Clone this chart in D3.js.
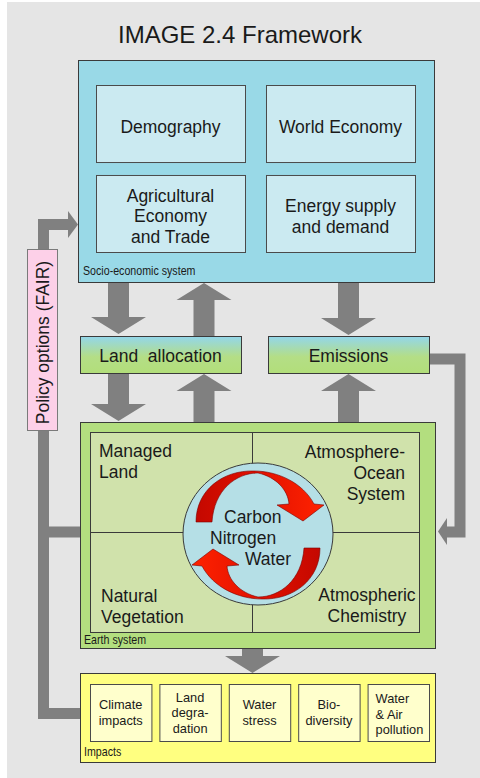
<!DOCTYPE html>
<html>
<head>
<meta charset="utf-8">
<script src="https://cdn.jsdelivr.net/npm/d3@7/dist/d3.min.js"></script>
<style>
  html, body { margin: 0; padding: 0; background: #ffffff; }
  svg text { font-family: "Liberation Sans", Arial, sans-serif; fill: #1a1a1a; }
</style>
</head>
<body>
<div id="chart"></div>
<script>
// ---- content ----
const title = "IMAGE 2.4 Framework";
const socioModules = [["Demography"], ["World Economy"], ["Agricultural", "Economy", "and Trade"], ["Energy supply", "and demand"]];
const linkBoxes = ["Land  allocation", "Emissions"];
const earthQuadrants = [["Managed", "Land"], ["Atmosphere-", "Ocean", "System"], ["Natural", "Vegetation"], ["Atmospheric", "Chemistry"]];
const cycles = ["Carbon", "Nitrogen", "Water"];
const impacts = [["Climate", "impacts"], ["Land", "degra-", "dation"], ["Water", "stress"], ["Bio-", "diversity"], ["Water", "& Air", "pollution"]];
const systemLabels = ["Socio-economic system", "Earth system", "Impacts"];
const policyLabel = "Policy options (FAIR)";

// ---- layout ----
const W = 480, H = 778;
const box = {
  socio:   {x: 78, y: 60, w: 356, h: 222},
  land:    {x: 80, y: 336, w: 161, h: 37},
  emis:    {x: 268, y: 336, w: 161, h: 37},
  earth:   {x: 80, y: 422, w: 355, h: 226},
  panel:   {x: 90, y: 432, w: 329, h: 200},
  impacts: {x: 80, y: 673, w: 355, h: 89},
  policy:  {x: 27, y: 249, w: 30, h: 181}
};
// block arrows between boxes: centre x, start y, tip y
const flows = [
  {cx: 118.5, y0: 282, y1: 334}, {cx: 204, y0: 336, y1: 283}, {cx: 348.5, y0: 282, y1: 335},
  {cx: 118.5, y0: 373, y1: 421}, {cx: 204, y0: 422, y1: 374}, {cx: 348.5, y0: 422, y1: 374},
  {cx: 252.5, y0: 648, y1: 673}
];

let svg = d3.select("#chart").append("svg")
    .attr("width", W).attr("height", H);

let defs = svg.append("defs");
let g1 = defs.append("linearGradient").attr("id", "linkGrad")
    .attr("x1", 0).attr("y1", 0).attr("x2", 0).attr("y2", 1);
g1.append("stop").attr("offset", "0").attr("stop-color", "#93d6ea");
g1.append("stop").attr("offset", "0.55").attr("stop-color", "#b4de86");
g1.append("stop").attr("offset", "1").attr("stop-color", "#b2de7a");
let g2 = defs.append("linearGradient").attr("id", "redGrad")
    .attr("x1", 0).attr("y1", 0).attr("x2", 1).attr("y2", 0);
g2.append("stop").attr("offset", "0").attr("stop-color", "#c40800");
g2.append("stop").attr("offset", "0.45").attr("stop-color", "#e01000");
g2.append("stop").attr("offset", "1").attr("stop-color", "#ff2200");

// background
svg.append("rect").attr("x", 7).attr("y", 2).attr("width", W - 7).attr("height", H - 2)
    .attr("fill", "#e5e5e5");

// title
svg.append("text").attr("x", 240).attr("y", 43)
    .attr("text-anchor", "middle").style("font-size", "24px")
    .text(title);

// feedback loops (thick grey lines)
const grey = "#808080";
let fb = svg.append("g").attr("fill", "none").attr("stroke", grey).attr("stroke-width", 11);
fb.append("path").attr("d", d3.line()([[80, 713.5], [43.5, 713.5], [43.5, 224.5], [69, 224.5]]));
fb.append("path").attr("d", d3.line()([[43.5, 532], [80, 532]]));
fb.append("path").attr("d", d3.line()([[429, 359], [460, 359], [460, 532], [446, 532]]));
svg.append("path").attr("fill", grey)
    .attr("d", "M68,211 L78,224.5 L68,238 Z");
svg.append("path").attr("fill", grey)
    .attr("d", "M447,518 L438,531.5 L447,545 Z");

// block arrows
function blockArrow(d) {
  let s = Math.sign(d.y1 - d.y0), sw = 21, hw = 55, hl = 17;
  let yb = d.y1 - s * hl;
  return d3.line()([[d.cx - sw / 2, d.y0], [d.cx - sw / 2, yb], [d.cx - hw / 2, yb], [d.cx, d.y1],
    [d.cx + hw / 2, yb], [d.cx + sw / 2, yb], [d.cx + sw / 2, d.y0]]) + "Z";
}
svg.selectAll(".flow").data(flows).enter().append("path")
    .attr("class", "flow").attr("d", blockArrow).attr("fill", grey);

function rectBox(b, fill, stroke) {
  return svg.append("rect").attr("x", b.x + 0.5).attr("y", b.y + 0.5)
      .attr("width", b.w).attr("height", b.h)
      .attr("fill", fill).attr("stroke", stroke || "#3a3a3a").attr("stroke-width", 1);
}
function multiLine(sel, lines, lh) {
  lines.forEach(function(t, i) {
    sel.append("tspan").attr("x", sel.attr("x")).attr("dy", i == 0 ? 0 : lh).text(t);
  });
}

// policy options
rectBox(box.policy, "#fdd0e8", "#7a7a7a");
svg.append("text")
    .attr("transform", "translate(" + (box.policy.x + box.policy.w / 2 + 6.5) + "," + (box.policy.y + box.policy.h / 2 + 3) + ") rotate(-90)")
    .attr("text-anchor", "middle").style("font-size", "17.5px")
    .text(policyLabel);

// socio-economic system
rectBox(box.socio, "#99d9e7");
let sx = d3.scaleBand().domain([0, 1]).range([96, 415]).paddingInner(0.1235);
let sy = d3.scaleBand().domain([0, 1]).range([85, 252]).paddingInner(0.144);
socioModules.forEach(function(lines, i) {
  let x = sx(i % 2), y = sy(Math.floor(i / 2));
  svg.append("rect").attr("x", x + 0.5).attr("y", y + 0.5)
      .attr("width", sx.bandwidth()).attr("height", sy.bandwidth())
      .attr("fill", "#cbeaf1").attr("stroke", "#4a4a4a");
  let t = svg.append("text").attr("x", x + sx.bandwidth() / 2)
      .attr("y", y + sy.bandwidth() / 2 + 9 - (lines.length - 1) * 10.25)
      .attr("text-anchor", "middle").style("font-size", "17.5px");
  multiLine(t, lines, 20.5);
});

// link boxes
[box.land, box.emis].forEach(function(b, i) {
  rectBox(b, "url(#linkGrad)");
  svg.append("text").attr("x", b.x + b.w / 2).attr("y", b.y + 26)
      .attr("text-anchor", "middle").style("font-size", "17.5px")
      .style("white-space", "pre")
      .text(linkBoxes[i]);
});

// earth system
rectBox(box.earth, "#b3de7f");
rectBox(box.panel, "#d0e2ab");
let p = box.panel, midX = 252.5, midY = 532.5;
svg.append("line").attr("x1", midX).attr("x2", midX).attr("y1", p.y).attr("y2", p.y + p.h)
    .attr("stroke", "#3a3a3a");
svg.append("line").attr("x1", p.x).attr("x2", p.x + p.w).attr("y1", midY).attr("y2", midY)
    .attr("stroke", "#3a3a3a");

const quadPos = [
  {x: 99, y: 457, anchor: "start"}, {x: 405, y: 458, anchor: "end"},
  {x: 101, y: 601.5, anchor: "start"}, {x: 367, y: 601, anchor: "middle"}
];
earthQuadrants.forEach(function(lines, i) {
  let q = quadPos[i];
  let t = svg.append("text").attr("x", q.x).attr("y", q.y)
      .attr("text-anchor", q.anchor).style("font-size", "17.5px");
  multiLine(t, lines, 21);
});

// cycle circle
svg.append("ellipse").attr("cx", 258).attr("cy", 534).attr("rx", 75).attr("ry", 71)
    .attr("fill", "#b5dfe6").attr("stroke", "#3a3a3a");
// curved arrow, local coordinates around the circle centre
const cyclePath = "M-62,-13 C-62,-45 -35,-65 -4,-64 C20,-64 45,-52 56,-31 " +
    "L66,-30 L45,-14 L19,-30 L31,-31 C30,-45 18,-58 0,-62 C-22,-62 -44,-45 -46,-13 Z";
[0, 180].forEach(function(a) {
  svg.append("path").attr("d", cyclePath)
      .attr("transform", "translate(258,535) rotate(" + a + ")")
      .attr("fill", "url(#redGrad)").attr("stroke", "#7a0000").attr("stroke-width", 0.6);
});
const cycleX = [224, 210, 245];
cycles.forEach(function(c, i) {
  svg.append("text").attr("x", cycleX[i]).attr("y", 522.5 + i * 21.2)
      .style("font-size", "17.5px").text(c);
});

// impacts
rectBox(box.impacts, "#ffff80");
let ix = d3.scaleBand().domain(d3.range(impacts.length)).range([90, 429]).paddingInner(0.115);
impacts.forEach(function(lines, i) {
  let x = ix(i), y = 684, h = 57;
  svg.append("rect").attr("x", x + 0.5).attr("y", y + 0.5)
      .attr("width", ix.bandwidth()).attr("height", h)
      .attr("fill", "#ffffcc").attr("stroke", "#4a4a4a");
  let last = i == impacts.length - 1;
  let t = svg.append("text").attr("x", last ? x + 8 : x + ix.bandwidth() / 2)
      .attr("y", y + h / 2 + 4.5 - (lines.length - 1) * 7.75 + (last ? 1.5 : 0))
      .attr("text-anchor", last ? "start" : "middle").style("font-size", "12.8px");
  multiLine(t, lines, 15.5);
});

// system labels (narrow)
const labelPos = [[83, 275], [84, 644], [84, 755.5]];
systemLabels.forEach(function(s, i) {
  svg.append("text")
      .attr("transform", "translate(" + labelPos[i][0] + "," + labelPos[i][1] + ") scale(0.82,1)")
      .style("font-size", "13px").text(s);
});
</script>
</body>
</html>
